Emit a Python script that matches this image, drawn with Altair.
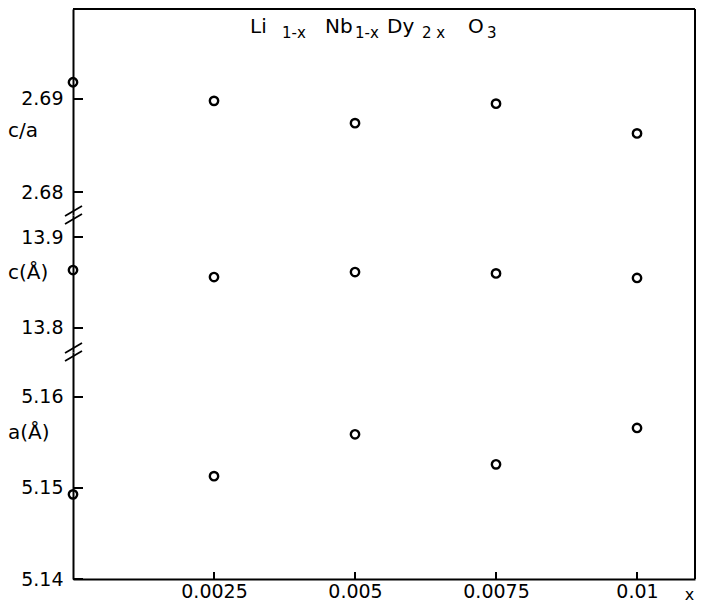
import altair as alt
import pandas as pd

# ---- data ----
x_vals = [0.0, 0.0025, 0.005, 0.0075, 0.01]
ca_vals = [2.6918, 2.6898, 2.6874, 2.6895, 2.6863]
c_vals = [13.8637, 13.8560, 13.8615, 13.8600, 13.8550]
a_vals = [5.1493, 5.1513, 5.1559, 5.1526, 5.1566]

x_ticks = [0.0025, 0.005, 0.0075, 0.01]
ca_ticks = [2.68, 2.69]
c_ticks = [13.8, 13.9]
a_ticks = [5.14, 5.15, 5.16]

x_domain = [0.0, 0.011028]
ca_domain = [2.677527, 2.699677]
c_domain = [13.773626, 13.924176]
a_domain = [5.14, 5.164945]

FONT = "DejaVu Sans"
W = 622
H = 570
# vertical pixel bands of the three broken-axis panels
BAND_CA = [206, 0]
BAND_C = [343, 206]
BAND_A = [570, 343]


def one():
    return alt.Chart(pd.DataFrame({"d": [0]}))


x_axis = alt.Axis(
    values=x_ticks, labelExpr="format(datum.value, '.4~f')", grid=False,
    ticks=False, domain=True, domainColor="black", domainWidth=2,
    labelPadding=3, labelFont=FONT, labelFontSize=19, labelColor="black",
    title="x", titleFont=FONT, titleFontSize=16, titleFontWeight="normal",
    titleColor="black", titleX=616, titleY=20, titleAlign="center",
    titleBaseline="alphabetic",
)
x_enc = alt.X("x:Q", scale=alt.Scale(domain=x_domain, nice=False, zero=False),
              axis=x_axis)


def y_enc(ticks, domain, band, fmt, show_axis=True):
    ax = alt.Axis(
        orient="left", values=ticks, format=fmt, title=None, grid=False,
        ticks=False, labelPadding=10,
        domain=True, domainColor="black", domainWidth=2,
        labelFont=FONT, labelFontSize=19, labelColor="black",
    ) if show_axis else None
    return alt.Y("v:Q", scale=alt.Scale(domain=domain, range=band, nice=False, zero=False),
                 axis=ax)


def panel(vals, ticks, domain, band, fmt):
    pts = alt.Chart(pd.DataFrame({"x": x_vals, "v": vals})).mark_point(
        shape="circle", filled=False, stroke="black", strokeWidth=2.4, size=70,
        opacity=1,
    ).encode(x=x_enc, y=y_enc(ticks, domain, band, fmt))
    tick_rules = alt.Chart(pd.DataFrame({"v": ticks})).mark_rule(
        color="black", strokeWidth=2
    ).encode(y=y_enc(ticks, domain, band, fmt, show_axis=False),
             x=alt.value(0), x2=alt.value(10))
    return [pts, tick_rules]


def label(text, yv):
    return one().mark_text(
        font=FONT, fontSize=20, align="left", baseline="middle", color="black"
    ).encode(x=alt.value(-65), y=alt.value(yv), text=alt.value(text))


def brk(yc):
    return [
        one().mark_rule(color="black", strokeWidth=1.8).encode(
            x=alt.value(-8), x2=alt.value(9), y=alt.value(yc + 1), y2=alt.value(yc - 9)),
        one().mark_rule(color="black", strokeWidth=1.8).encode(
            x=alt.value(-8), x2=alt.value(9), y=alt.value(yc + 9), y2=alt.value(yc - 1)),
    ]


frame = [
    one().mark_rule(color="black", strokeWidth=2).encode(
        x=alt.value(0), x2=alt.value(W), y=alt.value(0)),
    one().mark_rule(color="black", strokeWidth=2).encode(
        x=alt.value(W), y=alt.value(0), y2=alt.value(H)),
]

x_tick_rules = alt.Chart(pd.DataFrame({"x": x_ticks})).mark_rule(
    color="black", strokeWidth=2
).encode(x=x_enc, y=alt.value(H), y2=alt.value(H - 7))

# title pieces: Li(1-x) Nb(1-x) Dy(2x) O3
title_parts = [
    ("Li", 177, 23.5, 20), ("1-x", 209, 28.5, 15),
    ("Nb", 252, 23.5, 20), ("1-x", 282, 28.5, 15),
    ("Dy", 314, 23.5, 20), ("2 x", 349, 28.5, 15),
    ("O", 395, 23.5, 20), ("3", 414, 28.5, 15),
]
title_layers = [
    one().mark_text(font=FONT, fontSize=fs, align="left", baseline="alphabetic",
                    color="black").encode(x=alt.value(px), y=alt.value(py), text=alt.value(t))
    for t, px, py, fs in title_parts
]

layers = (
    frame
    + panel(ca_vals, ca_ticks, ca_domain, BAND_CA, ".2f")
    + panel(c_vals, c_ticks, c_domain, BAND_C, ".1f")
    + panel(a_vals, a_ticks, a_domain, BAND_A, ".2f")
    + [x_tick_rules]
    + brk(206) + brk(343)
    + [label("c/a", 122), label("c(Å)", 264), label("a(Å)", 424)]
    + title_layers
)

chart = alt.layer(*layers).resolve_scale(y="independent").resolve_axis(
    y="independent"
).properties(width=W, height=H, padding=0).configure_view(stroke=None)

chart.save("out.html", embed_options={"renderer": "svg", "actions": False})
